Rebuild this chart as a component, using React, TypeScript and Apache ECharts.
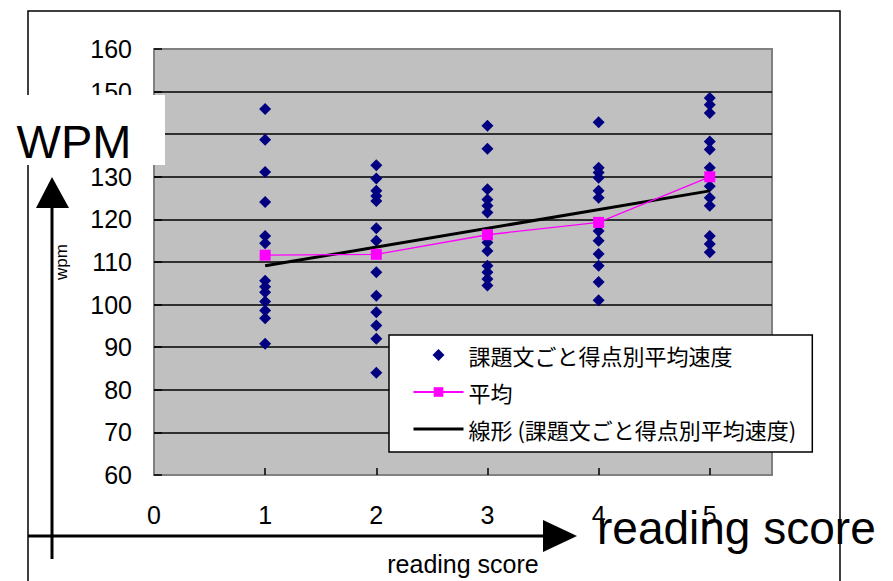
import React, { useEffect, useRef } from "react";
import * as echarts from "echarts";

// Reading score levels and the average reading speed (wpm) of each passage at that score
const scoreLevels = [1, 2, 3, 4, 5];
const speedsAtScore1 = [145.9, 138.7, 131.1, 124.1, 116.1, 114.4, 105.6, 104.2, 102.9, 100.7, 98.6, 96.8, 90.8];
const speedsAtScore2 = [132.7, 129.6, 126.7, 125.5, 124.3, 117.9, 115.0, 107.6, 102.1, 98.2, 95.1, 92.0, 84.0];
const speedsAtScore3 = [142.0, 136.6, 127.1, 124.7, 123.2, 121.6, 114.6, 112.6, 109.1, 107.6, 106.0, 104.5];
const speedsAtScore4 = [142.8, 132.1, 131.0, 129.8, 126.7, 125.1, 117.3, 115.0, 111.9, 109.1, 105.3, 101.0];
const speedsAtScore5 = [148.5, 146.9, 145.0, 138.3, 136.4, 132.1, 127.8, 125.1, 123.2, 116.1, 114.2, 112.3];
const speedsByScore = [speedsAtScore1, speedsAtScore2, speedsAtScore3, speedsAtScore4, speedsAtScore5];

// Mean speed per score
const meanSpeeds = [111.6, 111.8, 116.4, 119.3, 130.0];

// Linear trend end points (score, wpm)
const trendScores = [1, 5];
const trendSpeeds = [109.1, 126.7];

// Axis ticks
const xLabelValues = [0, 1, 2, 3, 4, 5];
const xTickValues = [1, 2, 3, 4, 5];

const scatterName = "課題文ごと得点別平均速度";
const meanName = "平均";
const trendName = "線形 (課題文ごと得点別平均速度)";

export default function App() {
  const ref = useRef<HTMLDivElement>(null);

  useEffect(() => {
    if (!ref.current) return;
    const chart = echarts.init(ref.current, null, { renderer: "svg" });

    const scatterData: number[][] = [];
    scoreLevels.forEach((s, i) => {
      speedsByScore[i].forEach((v) => scatterData.push([s, v]));
    });
    const meanData = scoreLevels.map((s, i) => [s, meanSpeeds[i]]);
    const trendData = trendScores.map((s, i) => [s, trendSpeeds[i]]);

    const latin = "Liberation Sans, Arial, sans-serif";

    chart.setOption({
      animation: false,
      grid: {
        left: 154,
        top: 49,
        right: 121,
        bottom: 104,
        show: true,
        backgroundColor: "#c0c0c0",
        borderColor: "#808080",
        borderWidth: 2,
      },
      xAxis: {
        type: "value",
        min: 0,
        max: 5.56,
        interval: 1,
        axisLine: { show: false },
        axisTick: {
          show: true,
          inside: true,
          length: 7,
          customValues: xTickValues,
          lineStyle: { color: "#000", width: 1.5 },
        },
        axisLabel: {
          customValues: xLabelValues,
          fontSize: 25,
          fontFamily: latin,
          color: "#000",
          margin: 27,
        },
        splitLine: { show: false },
        name: "reading score",
        nameLocation: "middle",
        nameGap: 76,
        nameTextStyle: { fontSize: 25, fontFamily: latin, color: "#000" },
      },
      yAxis: {
        type: "value",
        min: 60,
        max: 160,
        interval: 10,
        axisLine: { show: false },
        axisTick: { show: true, inside: true, length: 8, lineStyle: { color: "#000", width: 1.5 } },
        axisLabel: {
          fontSize: 25,
          fontFamily: latin,
          color: "#000",
          margin: 22,
          padding: [9, 0, 0, 0],
        },
        splitLine: {
          show: true,
          showMinLine: false,
          showMaxLine: false,
          lineStyle: { color: "#000", width: 1.5 },
        },
        name: "wpm",
        nameLocation: "middle",
        nameRotate: 90,
        nameGap: 84,
        nameTextStyle: { fontSize: 17, fontFamily: latin, color: "#000" },
      },
      legend: {
        data: [
          { name: scatterName, icon: "path://M6 0L12 6L6 12L0 6Z" },
          { name: meanName },
          {
            name: trendName,
            itemStyle: { color: "transparent", borderWidth: 0, opacity: 0 },
            lineStyle: { color: "#000", width: 3 },
          },
        ],
        symbolKeepAspect: true,
        orient: "vertical",
        left: 389,
        top: 335,
        backgroundColor: "#fff",
        borderColor: "#000",
        borderWidth: 1.5,
        borderRadius: 0,
        padding: [9, 16, 12, 23],
        itemWidth: 50,
        itemHeight: 12,
        itemGap: 15,
        selectedMode: false,
        textStyle: { fontSize: 22, fontFamily: "Noto Sans CJK JP", color: "#000" },
      },
      series: [
        {
          name: scatterName,
          type: "scatter",
          data: scatterData,
          symbol: "diamond",
          symbolSize: 12,
          itemStyle: { color: "#000080", opacity: 1 },
          z: 3,
        },
        {
          name: meanName,
          type: "line",
          data: meanData,
          symbol: "rect",
          symbolSize: 11,
          showSymbol: true,
          lineStyle: { color: "#ff00ff", width: 1.3 },
          itemStyle: { color: "#ff00ff" },
          z: 5,
        },
        {
          name: trendName,
          type: "line",
          data: trendData,
          symbol: "none",
          lineStyle: { color: "#000", width: 3 },
          itemStyle: { color: "#000" },
          z: 4,
        },
      ],
      graphic: [
        {
          type: "rect",
          silent: true,
          z: -1,
          shape: { x: 28, y: 11, width: 812, height: 600 },
          style: { fill: "none", stroke: "#000", lineWidth: 1.5 },
        },
        {
          type: "rect",
          silent: true,
          z: 100,
          shape: { x: 0, y: 95, width: 165, height: 70 },
          style: { fill: "#fff" },
        },
        {
          type: "text",
          silent: true,
          z: 101,
          x: 74,
          y: 141,
          style: {
            text: "WPM",
            fontSize: 47,
            fontFamily: latin,
            fill: "#000",
            align: "center",
            verticalAlign: "middle",
          },
        },
        {
          type: "line",
          silent: true,
          z: 101,
          shape: { x1: 52, y1: 205, x2: 52, y2: 559 },
          style: { stroke: "#000", lineWidth: 3 },
        },
        {
          type: "polygon",
          silent: true,
          z: 101,
          shape: { points: [[52, 177], [36, 208], [69, 208]] },
          style: { fill: "#000" },
        },
        {
          type: "line",
          silent: true,
          z: 101,
          shape: { x1: 28, y1: 536, x2: 546, y2: 536 },
          style: { stroke: "#000", lineWidth: 3 },
        },
        {
          type: "polygon",
          silent: true,
          z: 101,
          shape: { points: [[543, 520], [543, 552], [577, 536]] },
          style: { fill: "#000" },
        },
        {
          type: "text",
          silent: true,
          z: 101,
          x: 597,
          y: 528,
          style: {
            text: "reading score",
            fontSize: 46,
            fontFamily: latin,
            fill: "#000",
            align: "left",
            verticalAlign: "middle",
          },
        },
      ],
    });

    return () => chart.dispose();
  }, []);

  return (
    <div
      ref={ref}
      style={{ position: "fixed", left: 0, top: 0, width: 893, height: 581, background: "#fff" }}
    />
  );
}
